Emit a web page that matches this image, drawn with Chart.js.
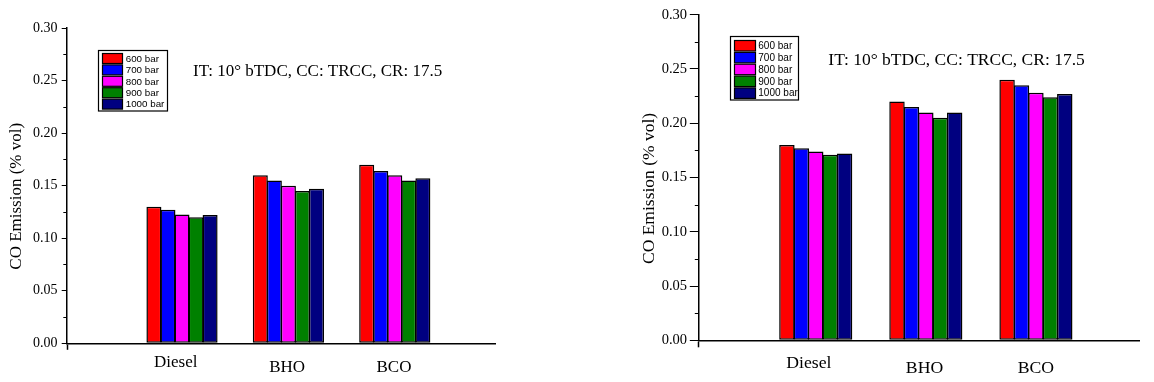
<!DOCTYPE html>
<html><head><meta charset="utf-8">
<script src="https://cdn.jsdelivr.net/npm/chart.js@4.4.1/dist/chart.umd.min.js"></script>
<style>
html,body{margin:0;padding:0;background:#fff;}
#wrap{position:relative;width:1154px;height:382px;overflow:hidden;background:#fff;}
canvas{position:absolute;top:0;}
</style></head><body>
<div id="wrap">
<canvas id="c1" width="577" height="382" style="left:0"></canvas>
<canvas id="c2" width="577" height="382" style="left:577px"></canvas>
</div>
<script>
// ---- data ----
const categories = ['Diesel', 'BHO', 'BCO'];
const seriesNames = ['600 bar', '700 bar', '800 bar', '900 bar', '1000 bar'];
const seriesColors = ['#FF0000', '#0000FF', '#FF00FF', '#008000', '#000080'];

const leftP600  = [0.130, 0.160, 0.170];
const leftP700  = [0.127, 0.155, 0.164];
const leftP800  = [0.1225, 0.150, 0.160];
const leftP900  = [0.120, 0.145, 0.155];
const leftP1000 = [0.122, 0.147, 0.157];

const rightP600  = [0.180, 0.220, 0.240];
const rightP700  = [0.177, 0.215, 0.235];
const rightP800  = [0.174, 0.210, 0.228];
const rightP900  = [0.171, 0.205, 0.224];
const rightP1000 = [0.172, 0.210, 0.227];

const yTickValues = [0, 0.05, 0.10, 0.15, 0.20, 0.25, 0.30];
const yTitle = 'CO Emission (% vol)';
const annotationText = 'IT: 10\u00B0 bTDC, CC: TRCC, CR: 17.5';

// ---- helpers ----
const extras = {
  id: 'extras',
  afterDraw(chart, args, o) {
    const ctx = chart.ctx, ys = chart.scales.y, left = chart.chartArea.left;
    ctx.save();
    ctx.strokeStyle = '#000';
    ctx.lineWidth = 1;
    for (let i = 0; i < yTickValues.length - 1; i++) {
      const v = (yTickValues[i] + yTickValues[i + 1]) / 2;
      const y = Math.round(ys.getPixelForValue(v)) + 0.5;
      ctx.beginPath(); ctx.moveTo(left - o.minorLen, y); ctx.lineTo(left, y); ctx.stroke();
    }
    ctx.fillStyle = '#000';
    ctx.font = o.annFont + 'px "Liberation Serif"';
    ctx.textBaseline = 'alphabetic';
    ctx.textAlign = 'left';
    ctx.fillText(annotationText, o.annX, o.annY);
    const L = o.legend;
    ctx.lineWidth = 1.2;
    ctx.strokeRect(L.x, L.y, L.w, L.h);
    ctx.font = L.font + 'px "Liberation Sans"';
    ctx.textBaseline = 'middle';
    chart.data.datasets.forEach((ds, i) => {
      const sy = L.y0 + i * L.pitch;
      ctx.fillStyle = ds.backgroundColor;
      ctx.fillRect(L.sx, sy, L.sw, L.sh);
      ctx.strokeRect(L.sx, sy, L.sw, L.sh);
      ctx.fillStyle = '#000';
      ctx.fillText(ds.label, L.tx, sy + L.sh / 2 + 0.5);
    });
    ctx.restore();
  }
};

function buildChart(id, seriesValues, g) {
  const datasets = seriesValues.map((vals, s) => ({
    label: seriesNames[s],
    data: vals.map((v, i) => ({x: i + 1, y: v})),
    backgroundColor: seriesColors[s],
    borderColor: '#000',
    borderWidth: 1.5,
    borderSkipped: false,
    categoryPercentage: g.catPct,
    barPercentage: g.barPct
  }));
  return new Chart(document.getElementById(id), {
    type: 'bar',
    data: {datasets},
    options: {
      responsive: false,
      animation: false,
      devicePixelRatio: 1,
      layout: {padding: {left: g.padL, right: g.padR, top: g.padT, bottom: 0}},
      plugins: {
        legend: {display: false},
        tooltip: {enabled: false},
        title: {display: false},
        extras: g.extras
      },
      scales: {
        x: {
          type: 'linear',
          offset: false,
          bounds: 'data',
          min: g.xMin,
          max: g.xMax,
          afterBuildTicks: (sc) => {
            sc.ticks = [{value: g.xMin}].concat(categories.map((c, i) => ({value: i + 1 + g.labelNudge[i]})));
          },
          afterFit: (sc) => { sc.height = g.xHeight; },
          grid: {
            display: true, offset: false, drawOnChartArea: false, drawTicks: true,
            tickLength: g.xTickLen, tickWidth: 1.5,
            tickColor: (ctx) => ctx.index === 0 ? '#000' : 'rgba(0,0,0,0)'
          },
          border: {display: true, color: '#000', width: 1.5},
          ticks: {
            autoSkip: false, maxRotation: 0, minRotation: 0,
            padding: g.xPad, color: '#000',
            font: (ctx) => ({family: 'Liberation Serif', size: g.catFont, lineHeight: ctx.index === 1 ? g.dieselLH : 1.2}),
            callback: (v, i) => i === 0 ? '' : categories[i - 1]
          }
        },
        y: {
          min: 0,
          max: 0.3,
          afterBuildTicks: (sc) => { sc.ticks = yTickValues.map(v => ({value: v})); },
          afterFit: (sc) => { sc.width = g.yWidth; },
          grid: {display: true, drawOnChartArea: false, drawTicks: true, tickLength: g.yTickLen, tickWidth: 1, tickColor: '#000'},
          border: {display: true, color: '#000', width: 1.5},
          ticks: {
            padding: g.yPad, color: '#000',
            font: {family: 'Liberation Serif', size: g.yFont},
            callback: (v) => Number(v).toFixed(2)
          },
          title: {
            display: true,
            text: yTitle + '\u00A0\u00A0\u00A0\u00A0\u00A0',
            color: '#000',
            font: {family: 'Liberation Serif', size: g.titleFont},
            padding: {top: g.titlePad, bottom: 0}
          }
        }
      }
    },
    plugins: [extras]
  });
}

buildChart('c1', [leftP600, leftP700, leftP800, leftP900, leftP1000], {
  xMin: -0.081, xMax: 3.942,
  padL: 0, padR: 82, padT: 28,
  xHeight: 38.7, yWidth: 67,
  xTickLen: 6.5, xPad: 8, catFont: 17, dieselLH: 0.612,
  yTickLen: 5.3, yPad: 4.3, yFont: 14,
  titleFont: 17, titlePad: 6.5,
  catPct: 0.66, barPct: 1.07,
  labelNudge: [-0.059, -0.012, -0.008],
  extras: {
    minorLen: 3.7, annFont: 17, annX: 193, annY: 76,
    legend: {x: 98.5, y: 50.5, w: 69, h: 60.5, sx: 102.5, sw: 20, y0: 53.5, sh: 10, pitch: 11.4, tx: 125.7, font: 9.8}
  }
});

buildChart('c2', [rightP600, rightP700, rightP800, rightP900, rightP1000], {
  xMin: -0.065, xMax: 3.939,
  padL: 55, padR: 14.7, padT: 14.7,
  xHeight: 41.7, yWidth: 66.5,
  xTickLen: 7, xPad: 10.4, catFont: 17.7, dieselLH: 0.633,
  yTickLen: 8.7, yPad: 2.7, yFont: 14.5,
  titleFont: 17.5, titlePad: 6.5,
  catPct: 0.655, barPct: 1.07,
  labelNudge: [-0.062, -0.012, 0],
  extras: {
    minorLen: 3.7, annFont: 17.5, annX: 251.3, annY: 64.6,
    legend: {x: 153.5, y: 36.5, w: 68, h: 63.5, sx: 157.5, sw: 21, y0: 40.5, sh: 10.5, pitch: 11.85, tx: 181.3, font: 10}
  }
});
</script>
</body></html>
